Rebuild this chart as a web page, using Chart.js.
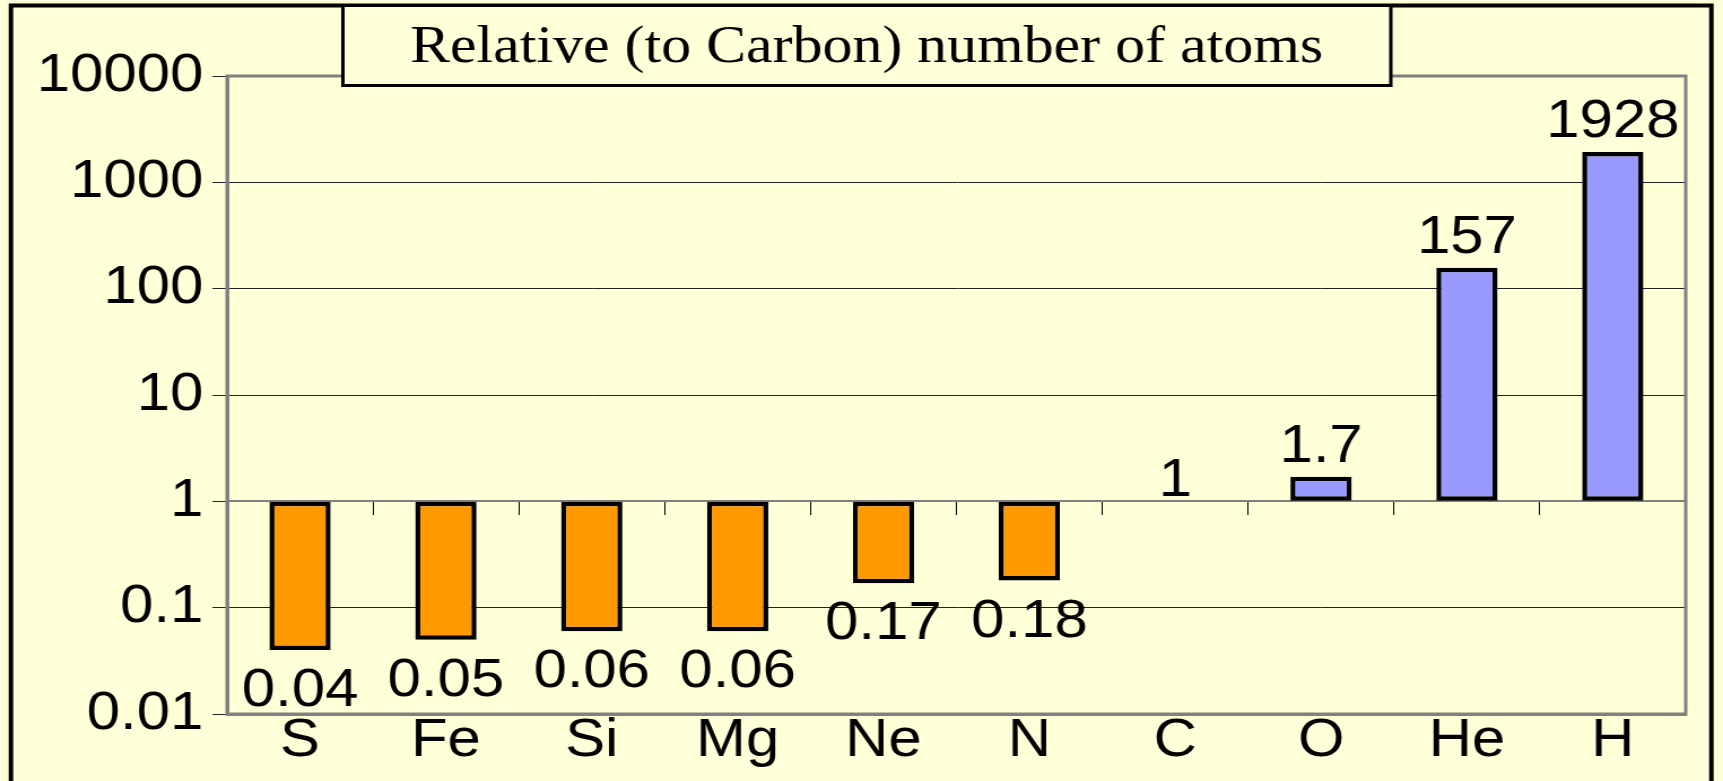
<!DOCTYPE html>
<html>
<head>
<meta charset="utf-8">
<title>Relative number of atoms</title>
<script src="https://cdn.jsdelivr.net/npm/chart.js@4.4.0/dist/chart.umd.min.js"></script>
<style>
  html, body { margin: 0; padding: 0; background: #ffffd8; overflow: hidden; }
  /* the drawing is stretched sideways to the page width */
  #abundanceChart { width: 1723px; height: 781px; display: block; }
</style>
</head>
<body>
<canvas id="abundanceChart" width="1525" height="781" style="width:1723px;height:781px"></canvas>
<script>
// --- Data ---
const elements = ['S', 'Fe', 'Si', 'Mg', 'Ne', 'N', 'C', 'O', 'He', 'H'];
const relativeAtoms = [0.04, 0.05, 0.06, 0.06, 0.17, 0.18, 1, 1.7, 157, 1928];
const yTicks = [0.01, 0.1, 1, 10, 100, 1000, 10000];
const yTickLabels = ['0.01', '0.1', '1', '10', '100', '1000', '10000'];
const chartTitle = 'Relative (to Carbon) number of atoms';

const BG = '#ffffd8';
const SANS = '"Liberation Sans", Arial, sans-serif';
const SERIF = '"Liberation Serif", "Times New Roman", serif';
const FONT_SIZE = 53;

// background, outer frame and plot border
const framePlugin = {
    id: 'frame',
    beforeDraw(chart) {
        const ctx = chart.ctx;
        ctx.save();
        ctx.fillStyle = BG;
        ctx.fillRect(0, 0, chart.width, chart.height);
        ctx.strokeStyle = '#000';
        ctx.lineWidth = 4;
        ctx.strokeRect(9.7, 5.5, 1505, 800);
        ctx.restore();
    },
    beforeDatasetsDraw(chart) {
        const { ctx, chartArea: a } = chart;
        ctx.save();
        ctx.strokeStyle = '#808080';
        ctx.lineWidth = 3;
        ctx.strokeRect(a.left, a.top, a.right - a.left, a.bottom - a.top);
        ctx.restore();
    },
    afterDraw(chart) {
        // boxed title sits over the top edge of the plot
        const ctx = chart.ctx;
        ctx.save();
        ctx.fillStyle = BG;
        ctx.fillRect(303.5, 5.5, 927.5, 80);
        ctx.strokeStyle = '#000';
        ctx.lineWidth = 3;
        ctx.strokeRect(303.5, 5.5, 927.5, 80);
        ctx.fillStyle = '#000';
        ctx.font = '53px ' + SERIF;
        ctx.textAlign = 'center';
        ctx.textBaseline = 'alphabetic';
        ctx.fillText(chartTitle, 767, 62);
        ctx.restore();
    }
};

// value labels: below the bar end for values under 1, above otherwise
const valueLabels = {
    id: 'valueLabels',
    afterDatasetsDraw(chart) {
        const ctx = chart.ctx;
        const meta = chart.getDatasetMeta(0);
        ctx.save();
        ctx.font = FONT_SIZE + 'px ' + SANS;
        ctx.fillStyle = '#000';
        ctx.textAlign = 'center';
        ctx.textBaseline = 'alphabetic';
        meta.data.forEach((bar, i) => {
            const v = relativeAtoms[i];
            let y;
            if (v < 1) y = bar.y + 56;
            else if (v === 1) y = bar.y - 5;   // no bar drawn, label hugs the axis
            else y = bar.y - 15;
            ctx.fillText(String(v), bar.x, y);
        });
        ctx.restore();
    }
};

const ctx = document.getElementById('abundanceChart').getContext('2d');
new Chart(ctx, {
    type: 'bar',
    data: {
        labels: elements,
        datasets: [{
            data: relativeAtoms,
            base: 1,
            backgroundColor: c => (c.raw < 1 ? '#ff9900' : '#9999ff'),
            borderColor: '#000',
            borderWidth: 4.5,
            borderSkipped: false,
            barPercentage: 0.42,
            categoryPercentage: 1
        }]
    },
    options: {
        responsive: false,
        devicePixelRatio: 1,
        animation: false,
        layout: { padding: { top: 76, right: 33, left: 0, bottom: 0 } },
        plugins: {
            legend: { display: false },
            tooltip: { enabled: false }
        },
        scales: {
            x: {
                type: 'category',
                position: 'bottom',
                offset: true,
                grid: { display: false, drawTicks: false },
                border: { display: true, color: '#808080', width: 3 },
                ticks: {
                    color: '#000',
                    font: { family: SANS, size: FONT_SIZE },
                    padding: -4,
                    maxRotation: 0,
                    autoSkip: false
                },
                afterFit: s => { s.height = 67; }
            },
            // category axis crossing at 1, tick marks only
            x2: {
                type: 'category',
                position: { y: 1 },
                offset: true,
                grid: { offset: true, drawOnChartArea: false, drawTicks: true, tickLength: 13, color: '#000', lineWidth: 1 },
                border: { display: true, color: '#808080', width: 2 },
                ticks: { display: false }
            },
            y: {
                type: 'logarithmic',
                min: 0.01,
                max: 10000,
                afterBuildTicks: s => { s.ticks = yTicks.map(v => ({ value: v })); },
                ticks: {
                    color: '#000',
                    font: { family: SANS, size: FONT_SIZE },
                    padding: 8,
                    autoSkip: false,
                    callback: v => yTickLabels[yTicks.indexOf(v)]
                },
                grid: { color: '#222', lineWidth: 1, tickLength: 13 },
                border: { color: '#808080', width: 3 },
                afterFit: s => { s.width = 201; }
            }
        }
    },
    plugins: [framePlugin, valueLabels]
});
</script>
</body>
</html>
